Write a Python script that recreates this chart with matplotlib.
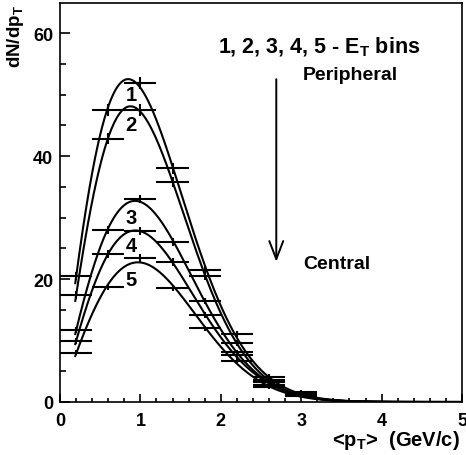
import numpy as np
import matplotlib
matplotlib.use("Agg")
import matplotlib.pyplot as plt
from matplotlib.ticker import MultipleLocator

plt.rcParams['font.family'] = ['Liberation Sans', 'DejaVu Sans']
plt.rcParams['font.weight'] = 'bold'
plt.rcParams['mathtext.fontset'] = 'custom'
plt.rcParams['mathtext.rm'] = 'Liberation Sans:bold'
plt.rcParams['mathtext.bf'] = 'Liberation Sans:bold'
plt.rcParams['mathtext.it'] = 'Liberation Sans:bold'
plt.rcParams['mathtext.default'] = 'bf'

# <pT> bin centres and half widths
pt = [0.2, 0.6, 1.0, 1.4, 1.8, 2.2, 2.6, 3.0]
pt_halfwidth = 0.2

# dN/dpT for the five ET bins, 1 = peripheral ... 5 = central
bin1 = [20.5, 47.5, 51.9, 38.0, 21.5, 11.1, 4.1, 1.6]
bin2 = [17.4, 42.8, 47.5, 35.8, 20.5, 9.6, 3.6, 1.4]
bin3 = [11.7, 28.0, 33.0, 26.0, 16.4, 8.1, 3.2, 1.2]
bin4 = [9.9, 24.1, 27.8, 22.8, 14.1, 7.6, 2.8, 1.1]
bin5 = [8.0, 18.7, 23.4, 18.5, 12.0, 6.7, 2.4, 0.9]
err1 = [0.7, 0.9, 1.0, 0.9, 0.7, 0.5, 0.4, 0.3]
err2 = [0.6, 0.9, 0.9, 0.8, 0.6, 0.5, 0.3, 0.3]
err3 = [0.5, 0.7, 0.7, 0.6, 0.5, 0.4, 0.3, 0.2]
err4 = [0.5, 0.6, 0.6, 0.6, 0.5, 0.4, 0.3, 0.2]
err5 = [0.4, 0.5, 0.6, 0.5, 0.4, 0.4, 0.3, 0.2]

all_bins = [bin1, bin2, bin3, bin4, bin5]
all_errs = [err1, err2, err3, err4, err5]
bin_names = ["1", "2", "3", "4", "5"]


def fit_curve(x, y):
    # log f = c0 + a*ln(x) + b*x + c*x^2, weighted so big points count more
    x = np.asarray(x); y = np.asarray(y)
    A = np.column_stack([np.ones_like(x), np.log(x), x, x**2])
    coef = np.linalg.lstsq(A * y[:, None], np.log(y) * y, rcond=None)[0]
    return coef


def eval_curve(coef, x):
    return np.exp(coef[0] + coef[1]*np.log(x) + coef[2]*x + coef[3]*x**2)


Fig = plt.figure(figsize=(4.66, 4.56), dpi=100)
Ax = Fig.add_axes([60/466, 53/456, 402/466, 399/456])

xs = np.linspace(0.19, 5.0, 500)
for y, e in zip(all_bins, all_errs):
    Ax.errorbar(pt, y, xerr=pt_halfwidth, yerr=e, fmt='none',
                ecolor='black', elinewidth=1.5, capsize=0)
    coef = fit_curve(pt, y)
    Ax.plot(xs, eval_curve(coef, xs), color='black', lw=1.5)

# curve labels
label_y = [50.0, 45.1, 30.0, 25.5, 20.0]
for name, ly in zip(bin_names, label_y):
    Ax.text(0.885, ly, name, fontsize=14.5, fontweight='bold',
            ha='center', va='center')

Ax.text(1.96, 57.8, r"1, 2, 3, 4, 5 - E$_T$ bins", fontsize=15.5,
        fontweight='bold', ha='left', va='center')
Ax.text(3.02, 53.2, "Peripheral", fontsize=14, fontweight='bold',
        ha='left', va='center')
Ax.text(3.02, 22.6, "Central", fontsize=14, fontweight='bold',
        ha='left', va='center')
Ax.annotate("", xy=(2.69, 22.8), xytext=(2.69, 52.5),
            arrowprops=dict(arrowstyle='->,head_length=1.3,head_width=0.5',
                            color='black', lw=1.4, mutation_scale=10,
                            shrinkA=0, shrinkB=0))

Ax.set_xlim(0, 5)
Ax.set_ylim(0, 64.9)
Ax.xaxis.set_major_locator(MultipleLocator(1))
Ax.xaxis.set_minor_locator(MultipleLocator(0.2))
Ax.yaxis.set_major_locator(MultipleLocator(20))
Ax.yaxis.set_minor_locator(MultipleLocator(5))
Ax.tick_params(which='both', direction='in', top=False, right=False,
               labelsize=13, width=1.2)
Ax.tick_params(axis='y', which='major', length=7, pad=5)
Ax.tick_params(axis='y', which='minor', length=4)
Ax.tick_params(axis='x', which='major', length=6, pad=7)
Ax.tick_params(axis='x', which='minor', length=3)
for lab in Ax.get_xticklabels() + Ax.get_yticklabels():
    lab.set_fontweight('bold')
for sp in Ax.spines.values():
    sp.set_linewidth(1.2)

Fig.text(460/466, 1 - 441/456, r"<p$_T$>  (GeV/c)", fontsize=14.5,
         fontweight='bold', ha='right', va='center')
Fig.text(16/466, 1 - 5/456, r"dN/dp$_T$", fontsize=13.5, fontweight='bold',
         rotation=90, ha='center', va='top')

Fig.savefig("out.png", dpi=100)
